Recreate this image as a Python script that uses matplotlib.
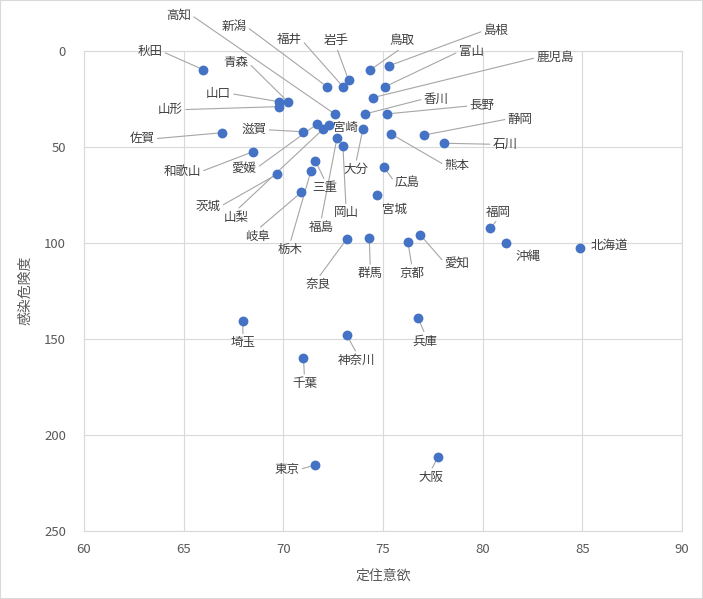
import matplotlib
matplotlib.use('Agg')
import matplotlib.pyplot as plt
from matplotlib.patches import Rectangle

plt.rcParams['font.family'] = ['Noto Sans CJK JP', 'DejaVu Sans']

# prefecture data: 定住意欲 (x) vs 感染危険度 (y)
prefectures = ['北海道', '青森', '岩手', '宮城', '秋田', '山形', '福島', '茨城', '栃木', '群馬',
               '埼玉', '千葉', '東京', '神奈川', '新潟', '富山', '石川', '福井', '山梨', '長野',
               '岐阜', '静岡', '愛知', '三重', '滋賀', '京都', '大阪', '兵庫', '奈良', '和歌山',
               '鳥取', '島根', '岡山', '広島', '山口', '香川', '愛媛', '高知', '福岡', '佐賀',
               '熊本', '大分', '宮崎', '鹿児島', '沖縄']
settle = [84.89, 70.22, 73.27, 74.70, 65.97, 69.76, 72.69, 69.68, 71.39, 74.31,
          67.97, 71.01, 71.59, 73.19, 72.19, 75.11, 78.07, 72.99, 71.99, 75.20,
          70.90, 77.07, 76.87, 71.60, 70.99, 76.25, 77.75, 76.76, 73.19, 68.48,
          74.36, 75.31, 72.99, 75.03, 69.76, 74.11, 71.69, 72.57, 80.38, 66.93,
          75.41, 73.99, 72.27, 74.50, 81.18]
risk = [102.6, 26.4, 15.1, 75.1, 9.7, 29.0, 45.5, 64.3, 62.4, 97.3,
        140.7, 160.2, 216.0, 148.2, 18.6, 18.6, 48.1, 18.6, 40.8, 32.8,
        73.7, 43.8, 95.9, 57.2, 42.1, 99.6, 211.8, 139.1, 97.9, 52.5,
        9.9, 7.7, 49.5, 60.3, 26.4, 32.8, 38.1, 32.8, 92.4, 42.6,
        43.3, 40.8, 38.6, 24.3, 99.9]

# where each label sits, in pixels from its point (right, down)
label_offset = {
    '北海道': (29, -2), '青森': (-52, -39), '岩手': (-12, -39), '宮城': (17, 14),
    '秋田': (-53, -18), '山形': (-108, 3), '福島': (-16, 89), '茨城': (-69, 32),
    '栃木': (-21, 79), '群馬': (1, 36), '埼玉': (0, 22), '千葉': (1, 25),
    '東京': (-28, 4), '神奈川': (10, 25), '新潟': (-93, -60), '富山': (86, -35),
    '石川': (61, 1), '福井': (-54, -47), '山梨': (-87, 88), '長野': (95, -8),
    '岐阜': (-44, 44), '静岡': (96, -16), '愛知': (37, 28), '三重': (10, 27),
    '滋賀': (-49, -2), '京都': (4, 31), '大阪': (-7, 20), '兵庫': (7, 23),
    '奈良': (-29, 46), '和歌山': (-71, 20), '鳥取': (32, -29), '島根': (107, -35),
    '岡山': (3, 67), '広島': (24, 16), '山口': (-60, -8), '香川': (71, -15),
    '愛媛': (-73, 44), '高知': (-156, -99), '福岡': (8, -16), '佐賀': (-80, 6),
    '熊本': (66, 31), '大分': (-7, 40), '宮崎': (17, 2), '鹿児島': (182, -40),
    '沖縄': (22, 14),
}
no_leader = {'北海道', '宮城', '宮崎', '沖縄'}

W, H = 703, 599
fig = plt.figure(figsize=(W / 100, H / 100), dpi=100)
ax = fig.add_axes([84 / W, 1 - 530.5 / H, (682 - 84) / W, (530.5 - 51) / H])

ax.scatter(settle, risk, s=50, color='#4472C4', zorder=4, linewidths=0)

for name, x, y in zip(prefectures, settle, risk):
    dx, dy = label_offset[name]
    arrow = None
    if name not in no_leader:
        hw, hh = len(name) * 6, 7
        if abs(dx) - hw > abs(dy) - hh:
            rel = (1, 0.5) if dx < 0 else (0, 0.5)
        else:
            rel = (0.5, 0) if dy < 0 else (0.5, 1)
        arrow = dict(arrowstyle='-', color='#a6a6a6', lw=0.8,
                     shrinkA=0, shrinkB=0, relpos=rel)
    ax.annotate(name, xy=(x, y), xytext=(dx, -dy), textcoords='offset pixels',
                ha='center', va='center', fontsize=9, color='#404040',
                arrowprops=arrow, zorder=3)

ax.set_xlim(60, 90)
ax.set_ylim(250, 0)
ax.set_xticks(range(60, 91, 5))
ax.set_yticks(range(0, 251, 50))
ax.grid(color='#d9d9d9', lw=0.8)
ax.set_axisbelow(True)
for s in ax.spines.values():
    s.set_color('#d9d9d9')
ax.tick_params(length=0, labelsize=9.5, colors='#595959')
ax.tick_params(axis='y', pad=13)
ax.tick_params(axis='x', pad=9)

fig.text(383 / W, 1 - 576 / H, '定住意欲', ha='center', va='center',
         fontsize=10, color='#595959')
fig.text(25 / W, 1 - 290 / H, '感染危険度', ha='center', va='center',
         rotation=90, fontsize=10, color='#595959')

fig.patches.append(Rectangle((0, 0), 1, 1, transform=fig.transFigure,
                             fill=False, edgecolor='#d9d9d9', lw=1.5))

fig.savefig('out.png', dpi=100)
